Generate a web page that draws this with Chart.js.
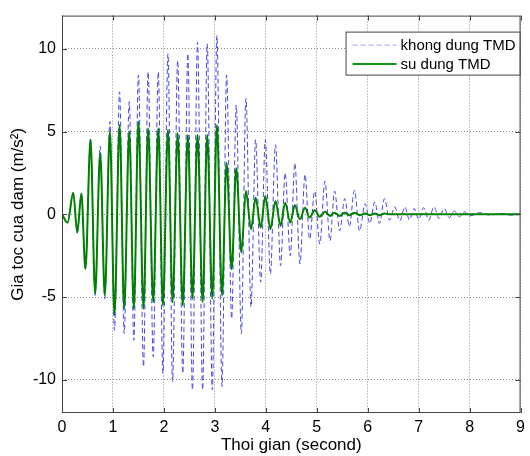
<!DOCTYPE html>
<html>
<head>
<meta charset="utf-8">
<script src="https://cdn.jsdelivr.net/npm/chart.js@4.4.1/dist/chart.umd.min.js"></script>
<style>
  body { margin: 0; background: #fff; }
  #wrap { width: 530px; height: 456px; }
</style>
</head>
<body>
<div id="wrap"><canvas id="chart" width="530" height="456"></canvas></div>
<script>
// thoi diem cac dinh / day dao dong (s)
var times = [0, 0.11, 0.22, 0.30, 0.38, 0.46, 0.56, 0.65, 0.75, 0.84,
    0.94, 1.03, 1.13, 1.22, 1.32, 1.41, 1.50, 1.60, 1.69, 1.79,
    1.89, 1.98, 2.08, 2.17, 2.27, 2.37, 2.47, 2.56, 2.66, 2.76,
    2.85, 2.95, 3.04, 3.14, 3.23, 3.33, 3.42, 3.52, 3.61, 3.71,
    3.80, 3.90, 3.99, 4.09, 4.19, 4.29, 4.38, 4.48, 4.57, 4.67,
    4.77, 4.86, 4.96, 5.06, 5.16, 5.26, 5.35, 5.45, 5.55, 5.64,
    5.74, 5.84, 5.95, 6.04, 6.14, 6.23, 6.33, 6.43, 6.53, 6.63,
    6.73, 6.82, 6.91, 7.00, 7.10, 7.20, 7.30, 7.40, 7.50, 7.60,
    7.70, 7.80, 7.90, 8.00, 8.20, 8.40, 8.60, 8.80, 9.00];

// khong dung TMD
var khongDung = [0, -0.5, 1.3, -1.1, 1.25, -3.3, 4.6, -4.9, 4.1, -5.1,
    5.6, -7.0, 7.4, -7.2, 6.8, -7.6, 8.4, -9.2, 8.6, -8.6,
    8.6, -9.6, 9.7, -10.1, 9.3, -9.6, 9.7, -10.6, 10.4, -10.6,
    10.3, -10.6, 10.8, -10.4, 8.4, -6.3, 6.6, -7.2, 7.0, -5.6,
    4.5, -4.1, 4.5, -3.6, 4.2, -3.1, 2.5, -2.5, 3.1, -3.0,
    2.4, -1.5, 1.4, -1.8, 2.0, -1.6, 1.4, -1.0, 0.95, -0.75,
    1.45, -1.0, 0.65, -0.55, 0.75, -0.55, 0.95, -0.35, 0.45, -0.4,
    0.45, -0.35, 0.35, -0.3, 0.4, -0.35, 0.45, -0.25, 0.35, -0.2,
    0.2, -0.15, 0.15, -0.1, 0.1, -0.05, 0.05, -0.05, 0];

// su dung TMD
var suDung = [0, -0.5, 1.3, -1.1, 1.25, -3.3, 4.5, -4.8, 3.7, -4.9,
    5.0, -6.1, 5.4, -5.7, 5.0, -5.7, 5.6, -5.7, 5.2, -5.3,
    5.2, -5.5, 5.1, -5.3, 4.9, -5.5, 4.8, -5.1, 4.8, -5.3,
    4.8, -5.1, 5.4, -4.9, 3.1, -3.3, 2.8, -2.3, 1.4, -0.9,
    1.0, -0.8, 1.1, -0.9, 0.8, -0.7, 0.7, -0.5, 0.55, -0.3,
    0.4, -0.2, 0.25, -0.15, 0.15, -0.1, 0.1, -0.1, 0.1, -0.05,
    0.1, -0.05, 0.05, -0.05, 0.05, -0.05, 0.05, 0, 0, 0,
    0, 0, 0, 0, 0, 0, 0, 0, 0, 0,
    0, 0, 0, 0, 0, 0, 0, 0, 0];

var xTicks = [0, 1, 2, 3, 4, 5, 6, 7, 8, 9];
var yTicks = [-10, -5, 0, 5, 10];

var font = 'Arial, "Liberation Sans", sans-serif';

function points(vals) {
    return times.map(function (t, i) { return { x: t, y: vals[i] }; });
}

// khung bao quanh, vach chia ben trong + legend kieu matlab
var matlabBox = {
    id: 'matlabBox',
    afterDraw: function (chart) {
        var ctx = chart.ctx;
        var a = chart.chartArea;
        var sx = chart.scales.x, sy = chart.scales.y;
        ctx.save();
        ctx.strokeStyle = '#444';
        ctx.lineWidth = 1;
        ctx.setLineDash([]);
        ctx.strokeRect(a.left + 0.5, a.top + 0.5, a.right - a.left - 1, a.bottom - a.top - 1);

        ctx.beginPath();
        xTicks.forEach(function (v) {
            var px = Math.round(sx.getPixelForValue(v)) + 0.5;
            ctx.moveTo(px, a.bottom); ctx.lineTo(px, a.bottom - 5);
            ctx.moveTo(px, a.top); ctx.lineTo(px, a.top + 5);
        });
        yTicks.forEach(function (v) {
            var py = Math.round(sy.getPixelForValue(v)) + 0.5;
            ctx.moveTo(a.left, py); ctx.lineTo(a.left + 5, py);
            ctx.moveTo(a.right, py); ctx.lineTo(a.right - 5, py);
        });
        ctx.stroke();

        // legend
        var bx = a.right - 175, by = a.top + 16, bw = 174, bh = 43;
        ctx.fillStyle = '#fff';
        ctx.fillRect(bx, by, bw, bh);
        ctx.strokeStyle = '#444';
        ctx.strokeRect(bx + 0.5, by + 0.5, bw, bh);
        ctx.font = '15px ' + font;
        ctx.textBaseline = 'middle';
        chart.data.datasets.forEach(function (ds, i) {
            var ly = by + 13 + i * 19;
            ctx.strokeStyle = ds.legendColor;
            ctx.lineWidth = ds.borderWidth;
            ctx.setLineDash(ds.borderDash || []);
            ctx.beginPath();
            ctx.moveTo(bx + 7, ly + 0.5);
            ctx.lineTo(bx + 51, ly + 0.5);
            ctx.stroke();
            ctx.fillStyle = '#000';
            ctx.fillText(ds.label, bx + 55, ly + 1);
        });
        ctx.restore();
    }
};

var config = {
    type: 'line',
    data: {
        datasets: [{
            label: 'khong dung TMD',
            data: points(khongDung),
            borderColor: 'rgb(70, 70, 230)',
            legendColor: 'rgb(160, 160, 230)',
            borderWidth: 1,
            borderDash: [5, 3],
            pointRadius: 0,
            cubicInterpolationMode: 'monotone',
            order: 2
        }, {
            label: 'su dung TMD',
            data: points(suDung),
            borderColor: 'rgb(0, 128, 0)',
            legendColor: 'rgb(20, 150, 20)',
            borderWidth: 2,
            pointRadius: 0,
            cubicInterpolationMode: 'monotone',
            order: 1
        }]
    },
    options: {
        responsive: false,
        animation: false,
        layout: { padding: { left: 0, right: 8, top: 9, bottom: 0 } },
        plugins: {
            legend: { display: false },
            tooltip: { enabled: false }
        },
        scales: {
            x: {
                type: 'linear',
                min: 0,
                max: 9,
                afterBuildTicks: function (s) { s.ticks = xTicks.map(function (v) { return { value: v }; }); },
                afterFit: function (s) { s.height = 43; },
                grid: { color: '#8c8c8c', drawTicks: false },
                border: { display: false, dash: [1, 2] },
                ticks: { color: '#000', font: { size: 16, family: font }, padding: 5, maxRotation: 0 },
                title: { display: true, text: 'Thoi gian (second)', color: '#000', font: { size: 17, family: font }, padding: { top: 0, bottom: 0 } }
            },
            y: {
                type: 'linear',
                min: -12,
                max: 12,
                afterBuildTicks: function (s) { s.ticks = yTicks.map(function (v) { return { value: v }; }); },
                afterFit: function (s) { s.width = 62; },
                grid: { color: '#8c8c8c', drawTicks: false },
                border: { display: false, dash: [1, 2] },
                ticks: { color: '#000', font: { size: 16, family: font }, padding: 6 },
                title: { display: true, text: 'Gia toc cua dam (m/s²)', color: '#000', font: { size: 17, family: font }, padding: { top: 8, bottom: 0 } }
            }
        }
    },
    plugins: [matlabBox]
};

var chart = new Chart(document.getElementById('chart'), config);
</script>
</body>
</html>
